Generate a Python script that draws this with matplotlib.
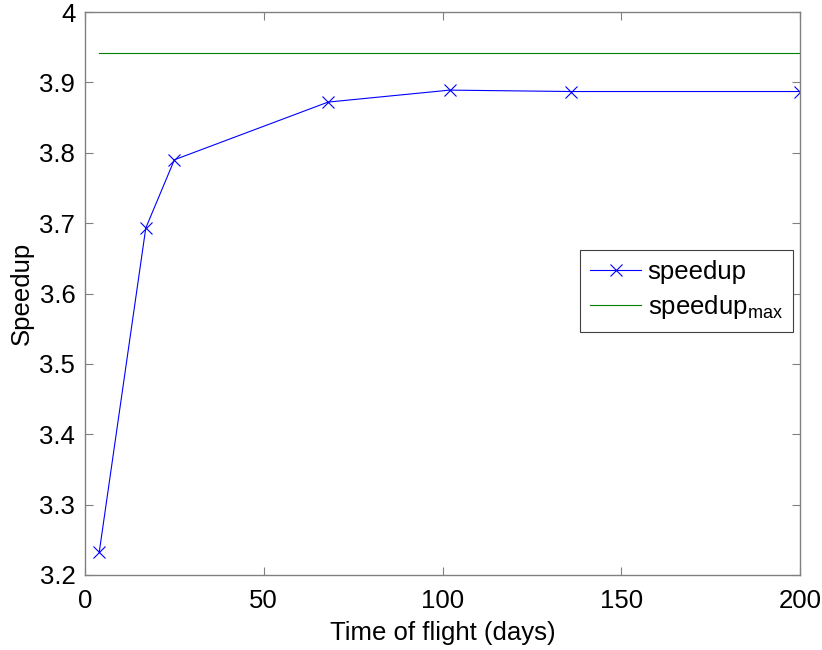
import numpy as np
import matplotlib
matplotlib.use("Agg")
import matplotlib.pyplot as plt

plt.rcParams['font.family'] = ['Liberation Sans', 'DejaVu Sans']
plt.rcParams['mathtext.default'] = 'regular'

# time of flight (days) and measured speedup
tof = [4, 17, 25, 68, 102, 136, 200]
speedup = [3.233, 3.693, 3.790, 3.872, 3.889, 3.887, 3.887]
speedup_max = 3.9414

fig = plt.figure(figsize=(8.22, 6.5), dpi=100)
ax = fig.add_axes([85/822, 1-575/650, 715/822, 563/650])

ax.plot(tof, speedup, color=(0, 0, 1), lw=0.8, marker='x', ms=9, mew=0.8,
        label='speedup')
ax.plot([tof[0], tof[-1]], [speedup_max, speedup_max], color=(0, 0.5, 0),
        lw=0.8, label='speedup$_{max}$')

ax.set_xlim(0, 200)
ax.set_ylim(3.2, 4.0)
ax.set_xticks([0, 50, 100, 150, 200])
ax.set_yticks(np.arange(3.2, 4.01, 0.1))
ax.set_yticklabels(['3.2', '3.3', '3.4', '3.5', '3.6', '3.7', '3.8', '3.9', '4'])

for s in ax.spines.values():
    s.set_color('#808080')
    s.set_linewidth(1.0)
ax.tick_params(direction='in', length=6, width=0.8, color='#808080',
               top=True, right=True, labelsize=18.5, pad=7)
ax.tick_params(axis='x', pad=10)

ax.set_xlabel('Time of flight (days)', fontsize=18.5, labelpad=6)
ax.set_ylabel('Speedup', fontsize=18.5, labelpad=4)

leg = ax.legend(loc='upper right', bbox_to_anchor=(0.990, 0.577), fontsize=18.5,
                fancybox=False, framealpha=1, edgecolor='#404040',
                handlelength=2.0, borderpad=0.4, labelspacing=0.35,
                handletextpad=0.25, borderaxespad=0)
leg.get_frame().set_linewidth(0.8)

fig.savefig('out.png', dpi=100)
